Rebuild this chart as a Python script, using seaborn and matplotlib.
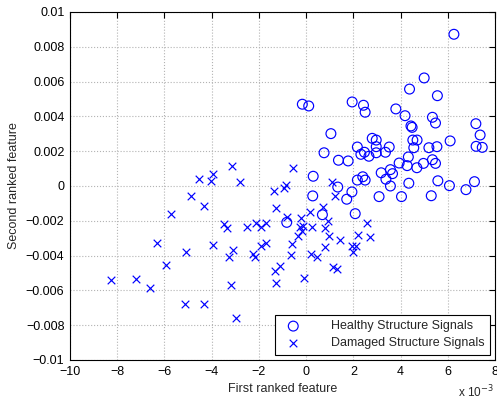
import numpy as np
import pandas as pd
import matplotlib
matplotlib.use("Agg")
import matplotlib.pyplot as plt
import seaborn as sns

# First ranked feature (x, in units of 1e-3) and second ranked feature (y, in units of 1e-3)
healthy_x = [6.26, 5.00, 4.38, 5.56, -0.16, 0.11, 1.95, 2.43, 2.50, 3.80,
             4.19, 5.35, 5.48, 7.19, 7.37, 4.44, 4.49, 1.05, 2.80, 2.97,
             4.52, 4.70, 6.10, 2.17, 2.97, 3.52, 4.56, 5.20, 5.54, 7.20,
             7.46, 0.76, 2.32, 2.47, 2.66, 2.97, 3.36, 1.37, 1.78, 4.33,
             3.94, 4.28, 4.69, 4.97, 5.35, 5.48, 0.30, 3.18, 3.57, 3.66,
             3.38, 2.17, 2.40, 2.50, 3.57, 4.35, 5.58, 6.07, 7.13, 6.77,
             0.28, 1.34, 1.94, 1.72, 3.09, 4.04, 5.30, 0.69, 2.08, -0.82]
healthy_y = [8.72, 6.21, 5.57, 5.19, 4.70, 4.60, 4.83, 4.64, 4.24, 4.43,
             4.04, 3.95, 3.62, 3.58, 2.93, 3.45, 3.37, 3.01, 2.74, 2.64,
             2.64, 2.64, 2.59, 2.24, 2.26, 2.24, 2.20, 2.20, 2.26, 2.28,
             2.22, 1.91, 1.82, 1.94, 1.71, 1.91, 1.94, 1.48, 1.44, 1.67,
             1.32, 1.17, 1.05, 1.30, 1.51, 1.30, 0.56, 0.76, 0.94, 0.71,
             0.39, 0.34, 0.53, 0.34, 0.00, 0.16, 0.30, 0.02, 0.25, -0.21,
             -0.57, -0.06, -0.34, -0.76, -0.61, -0.61, -0.56, -1.65, -1.59, -2.09]

damaged_x = [-8.26, -7.20, -6.62, -6.30, -5.93, -5.72, -5.08, -5.11, -4.87, -4.33,
             -4.31, -3.95, -4.52, -4.04, -3.93, -3.15, -2.80, -3.46, -3.33, -3.28,
             -3.08, -3.18, -2.98, -2.51, -2.26, -2.17, -2.12, -1.93, -1.89, -1.70,
             -1.70, -1.35, -1.26, -1.33, -1.27, -0.55, -0.95, -0.85, -0.83, -0.60,
             -0.36, -0.25, -0.66, 0.70, 0.17, -0.23, 0.91, 2.57, -0.15, 0.24,
             0.81, -0.18, 0.95, 2.21, 2.70, 1.45, 0.79, 0.22, 0.44, 1.95,
             2.12, 1.99, -1.09, -0.08, 1.12, 1.30, 1.10, 1.22]
damaged_y = [-5.40, -5.34, -5.84, -3.26, -4.52, -1.59, -3.79, -6.78, -0.57, -1.13,
             -6.76, -3.39, 0.43, 0.27, 0.69, 1.13, 0.23, -2.18, -2.44, -4.10,
             -3.65, -5.69, -7.60, -2.36, -3.88, -4.10, -2.14, -2.37, -3.45, -3.26,
             -2.10, -0.29, -1.26, -4.86, -5.59, 1.03, -0.09, 0.03, -1.76, -3.36,
             -2.87, -2.36, -3.94, -1.19, -1.51, -1.86, -2.01, -2.11, -2.28, -2.37,
             -2.43, -2.57, -2.87, -2.79, -2.93, -3.10, -3.49, -3.92, -4.06, -3.45,
             -3.43, -3.78, -4.60, -5.26, -4.67, -4.77, 0.21, -0.57]

series_labels = ["Healthy Structure Signals", "Damaged Structure Signals"]
x_ticks = [-10, -8, -6, -4, -2, 0, 2, 4, 6, 8]
y_ticks = [0.01, 0.008, 0.006, 0.004, 0.002, 0, -0.002, -0.004, -0.006, -0.008, -0.01]
y_tick_labels = ["0.01", "0.008", "0.006", "0.004", "0.002", "0",
                 "\u22120.002", "\u22120.004", "\u22120.006", "\u22120.008", "\u22120.01"]

healthy = pd.DataFrame({"x": healthy_x, "y": np.array(healthy_y) * 1e-3})
damaged = pd.DataFrame({"x": damaged_x, "y": np.array(damaged_y) * 1e-3})

sns.set_style("white")
plt.rcParams["font.family"] = ["Liberation Sans", "DejaVu Sans"]
plt.rcParams["font.size"] = 9

fig = plt.figure(figsize=(4.97, 4.03), dpi=100)
ax = fig.add_axes([70 / 497, 1 - 360 / 403, 425 / 497, 348 / 403])

sns.scatterplot(data=healthy, x="x", y="y", marker="o", s=50,
                facecolors="none", edgecolor="blue", linewidth=0.85,
                label=series_labels[0], ax=ax, zorder=3)
sns.scatterplot(data=damaged, x="x", y="y", marker="x", s=30,
                color="blue", linewidth=0.85,
                label=series_labels[1], ax=ax, zorder=3)

ax.set_xlim(-10, 8)
ax.set_ylim(-0.01, 0.01)
ax.set_xticks(x_ticks)
ax.set_xticklabels([str(t) if t >= 0 else "\u2212" + str(-t) for t in x_ticks])
ax.set_yticks(y_ticks)
ax.set_yticklabels(y_tick_labels)

ax.grid(True, linestyle=":", color="0.7", linewidth=0.8)
ax.set_axisbelow(True)
ax.tick_params(direction="in", length=4, width=0.8, top=True, right=True,
               colors="black", labelsize=9, pad=4)
for side in ax.spines.values():
    side.set_visible(True)
    side.set_color("black")
    side.set_linewidth(0.8)

ax.set_xlabel("First ranked feature", fontsize=9, labelpad=4)
ax.set_ylabel("Second ranked feature", fontsize=9, labelpad=4)

leg = ax.legend(loc="lower right", fancybox=False, framealpha=1,
                edgecolor="black", fontsize=9, borderaxespad=0.4,
                handletextpad=2.0, borderpad=0.45, labelspacing=0.4)
leg.get_frame().set_linewidth(0.8)

# Exponent note for the x axis, placed under its right end
fig.text(458 / 497, 1 - 397 / 403, "x 10$^{-3}$", fontsize=8.5, ha="left", va="baseline")

fig.savefig("out.png", dpi=100)
